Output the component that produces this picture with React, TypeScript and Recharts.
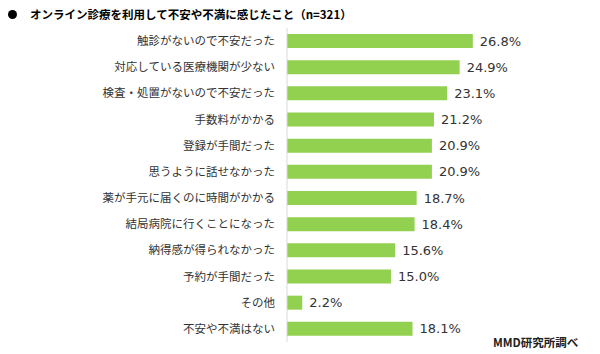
import { BarChart, Bar, XAxis, YAxis, LabelList } from 'recharts';

const categories = [
  '触診がないので不安だった',
  '対応している医療機関が少ない',
  '検査・処置がないので不安だった',
  '手数料がかかる',
  '登録が手間だった',
  '思うように話せなかった',
  '薬が手元に届くのに時間がかかる',
  '結局病院に行くことになった',
  '納得感が得られなかった',
  '予約が手間だった',
  'その他',
  '不安や不満はない',
];

const values = [26.8, 24.9, 23.1, 21.2, 20.9, 20.9, 18.7, 18.4, 15.6, 15.0, 2.2, 18.1];

const title = 'オンライン診療を利用して不安や不満に感じたこと（n=321）';
const source = 'MMD研究所調べ';

const data = categories.map((name, i) => ({ name, value: values[i] }));

const jp = '"Noto Sans CJK JP", "Noto Sans", sans-serif';

export default function App() {
  return (
    <div style={{ position: 'absolute', left: 0, top: 0, width: 600, height: 354, background: '#fff', fontFamily: jp }}>
      <div style={{ position: 'absolute', left: 8, top: 10, width: 9, height: 9, borderRadius: '50%', background: '#000' }} />
      <div style={{ position: 'absolute', left: 30, top: 5, fontSize: 11.5, fontWeight: 'bold', color: '#000', lineHeight: '18px', whiteSpace: 'nowrap' }}>
        {title}
      </div>
      <BarChart
        width={600}
        height={354}
        data={data}
        layout="vertical"
        margin={{ top: 28, right: 105, bottom: 12, left: 0 }}
        barSize={14}
      >
        <XAxis type="number" domain={[0, 30]} hide />
        <YAxis
          type="category"
          dataKey="name"
          width={287}
          tickLine={false}
          tickSize={6}
          tickMargin={6}
          axisLine={{ stroke: '#d9d9d9' }}
          tick={{ fill: '#333', fontSize: 11.5, fontFamily: jp }}
          interval={0}
        />
        <Bar dataKey="value" fill="#92D050" isAnimationActive={false}>
          <LabelList
            dataKey="value"
            position="right"
            offset={7}
            formatter={(v: number) => `${v.toFixed(1)}%`}
            style={{ fill: '#333', fontSize: 13, fontFamily: '"DejaVu Sans", sans-serif' }}
          />
        </Bar>
      </BarChart>
      <div style={{ position: 'absolute', left: 493, top: 333, fontSize: 11.5, fontWeight: 'bold', color: '#222', lineHeight: '18px', whiteSpace: 'nowrap' }}>
        {source}
      </div>
    </div>
  );
}
